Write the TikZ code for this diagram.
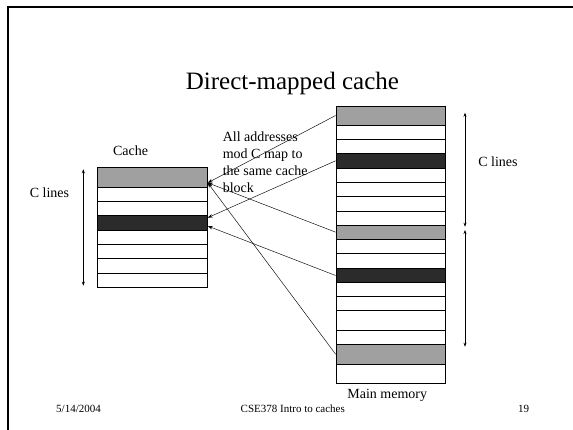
\documentclass[tikz,border=0pt]{standalone}
\usepackage{fontspec}
\setmainfont{Liberation Serif}
\usetikzlibrary{arrows.meta}
\definecolor{rowgray}{HTML}{A0A0A0}
\definecolor{rowdark}{HTML}{2B2B2B}
\begin{document}
\begin{tikzpicture}[x=1pt,y=-1pt,
  cacherow/.style={draw=black,line width=0.8pt,inner sep=0pt,minimum width=110.4pt,fill=white},
  memrow/.style={draw=black,line width=0.8pt,inner sep=0pt,minimum width=109.3pt,fill=white},
  light/.style={fill=rowgray},
  dark/.style={fill=rowdark},
  maparrow/.style={line width=0.45pt,-{Stealth[length=5pt,width=3.5pt]}},
  dimarrow/.style={line width=0.6pt,{Stealth[length=4pt,width=3pt]}-{Stealth[length=4pt,width=3pt]}},
  lbl/.style={inner sep=0pt,font=\fontsize{14}{16.7}\selectfont},
  foot/.style={inner sep=0pt,font=\fontsize{11}{13}\selectfont}]
\useasboundingbox (0,0) rectangle (573,430);
\fill[white] (0,0) rectangle (573,430);
% slide frame
\draw[line width=2pt] (7.7,430) -- (7.7,7) -- (573,7);

% title
\node[inner sep=0pt,font=\fontsize{25}{30}\selectfont,anchor=base] (title) at (292.4,89.3) {Direct-mapped cache};

% cache rows
\node[cacherow,light,minimum height=19.6pt] (c1) at (152.5,177.5) {};
\node[cacherow,minimum height=14.4pt] (c2) at (152.5,194.5) {};
\node[cacherow,minimum height=14pt] (c3) at (152.5,208.7) {};
\node[cacherow,dark,minimum height=14.3pt] (c4) at (152.5,222.85) {};
\node[cacherow,minimum height=14.3pt] (c5) at (152.5,237.15) {};
\node[cacherow,minimum height=14.4pt] (c6) at (152.5,251.5) {};
\node[cacherow,minimum height=14.3pt] (c7) at (152.5,265.85) {};
\node[cacherow,minimum height=14.3pt] (c8) at (152.5,280.15) {};

% main memory rows
\node[memrow,light,minimum height=19pt] (m1) at (390.65,115.5) {};
\node[memrow,minimum height=14.3pt] (m2) at (390.65,132.15) {};
\node[memrow,minimum height=14pt] (m3) at (390.65,146.3) {};
\node[memrow,dark,minimum height=15pt] (m4) at (390.65,160.8) {};
\node[memrow,minimum height=14pt] (m5) at (390.65,175.3) {};
\node[memrow,minimum height=14.4pt] (m6) at (390.65,189.5) {};
\node[memrow,minimum height=14.3pt] (m7) at (390.65,203.85) {};
\node[memrow,minimum height=14pt] (m8) at (390.65,218) {};
\node[memrow,light,minimum height=14.3pt] (m9) at (390.65,232.15) {};
\node[memrow,minimum height=14.4pt] (m10) at (390.65,246.5) {};
\node[memrow,minimum height=14.6pt] (m11) at (390.65,261) {};
\node[memrow,dark,minimum height=14.4pt] (m12) at (390.65,275.5) {};
\node[memrow,minimum height=14pt] (m13) at (390.65,289.7) {};
\node[memrow,minimum height=14pt] (m14) at (390.65,303.7) {};
\node[memrow,minimum height=19.3pt] (m15) at (390.65,320.35) {};
\node[memrow,minimum height=14.3pt] (m16) at (390.65,337.15) {};
\node[memrow,light,minimum height=19.7pt] (m17) at (390.65,354.15) {};
\node[memrow,minimum height=19pt] (m18) at (390.65,373.5) {};

% arrow targets on the cache
\coordinate (tgtA) at (207.7,182.8);
\coordinate (tgtB) at (207.7,217.7);
\coordinate (tgtC) at (207.7,226);

% mapping arrows
\draw[maparrow] (m1.west) -- (tgtA);
\draw[maparrow] (m9.west) -- (tgtA);
\draw[maparrow] (m17.west) -- (tgtA);
\draw[maparrow] (m4.west) -- (tgtB);
\draw[maparrow] (m12.west) -- (tgtC);

% dimension arrows
\coordinate (dl1) at (83.3,169.3);
\coordinate (dl2) at (83.3,285.7);
\draw[dimarrow] (dl1) -- (dl2);
\coordinate (dr1) at (465,112.7);
\coordinate (dr2) at (465,226.7);
\coordinate (dr3) at (465,230);
\coordinate (dr4) at (465,346.7);
\draw[dimarrow] (dr1) -- (dr2);
\draw[dimarrow] (dr3) -- (dr4);

% labels
\node[lbl,anchor=base] (cachelbl) at (130.5,156) {Cache};
\node[lbl,anchor=base] (clinesL) at (49.5,197.5) {C lines};
\node[lbl,anchor=base] (clinesR) at (498,166.5) {C lines};
\node[lbl,anchor=north west,align=left] (note) at (222.6,132) {All addresses\\mod C map to\\the same cache\\block};
\node[lbl,anchor=base] (memlbl) at (387.2,398.5) {Main memory};

% footer
\node[foot,anchor=base west] (date) at (56,412) {5/14/2004};
\node[foot,anchor=base] (course) at (292.8,412) {CSE378 Intro to caches};
\node[foot,anchor=base] (page) at (523.5,412) {19};
\end{tikzpicture}
\end{document}
